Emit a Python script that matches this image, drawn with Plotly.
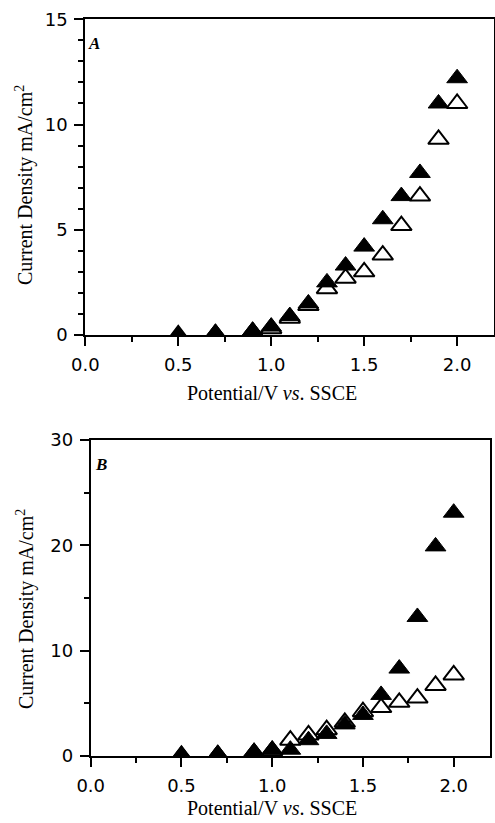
import plotly.graph_objects as go

# ---------------- data ----------------
potential = [0.5, 0.7, 0.9, 1.0, 1.1, 1.2, 1.3, 1.4, 1.5, 1.6, 1.7, 1.8, 1.9, 2.0]

a_filled = [0.0, 0.1, 0.2, 0.4, 0.9, 1.5, 2.5, 3.3, 4.2, 5.5, 6.6, 7.7, 11.0, 12.2]
a_open   = [0.0, 0.05, 0.15, 0.3, 0.8, 1.4, 2.2, 2.7, 3.0, 3.8, 5.2, 6.6, 9.3, 11.0]

b_filled = [0.1, 0.2, 0.4, 0.6, 0.6, 1.5, 2.1, 3.0, 3.9, 5.8, 8.3, 13.2, 19.9, 23.1]
b_open   = [0.05, 0.1, 0.3, 0.5, 1.5, 2.0, 2.5, 3.2, 4.2, 4.6, 5.1, 5.5, 6.7, 7.7]

x_ticks = [0.0, 0.5, 1.0, 1.5, 2.0]
x_ticklabels = ["0.0", "0.5", "1.0", "1.5", "2.0"]
ya_ticks = [0, 5, 10, 15]
yb_ticks = [0, 10, 20, 30]

x_title = "Potential/V <i>vs</i>. SSCE"
y_title = "Current Density mA/cm<sup>2</sup>"

W, H = 495, 823

def px_x(p):
    return p / W

def px_y(p):
    return 1 - p / H

fig = go.Figure()

MS = 18
open_marker = dict(symbol="triangle-up", size=MS, color="white",
                   line=dict(color="black", width=2))
fill_marker = dict(symbol="triangle-up", size=MS, color="black",
                   line=dict(color="black", width=1))

fig.add_trace(go.Scatter(x=potential, y=a_open, mode="markers", marker=open_marker,
                         xaxis="x", yaxis="y", showlegend=False))
fig.add_trace(go.Scatter(x=potential, y=a_filled, mode="markers", marker=fill_marker,
                         xaxis="x", yaxis="y", showlegend=False))
fig.add_trace(go.Scatter(x=potential, y=b_open, mode="markers", marker=open_marker,
                         xaxis="x2", yaxis="y2", showlegend=False))
fig.add_trace(go.Scatter(x=potential, y=b_filled, mode="markers", marker=fill_marker,
                         xaxis="x2", yaxis="y2", showlegend=False))

tickfont = dict(family="DejaVu Sans", size=18, color="black")

def xaxis_cfg(domain, anchor):
    return dict(domain=domain, anchor=anchor, range=[0, 2.2], automargin=False,
                tickvals=x_ticks, ticktext=x_ticklabels,
                ticks="outside", ticklen=9, tickwidth=2, tickcolor="black",
                minor=dict(dtick=0.25, tick0=0, ticks="outside", ticklen=5,
                           tickwidth=2, tickcolor="black"),
                showline=True, linecolor="black", linewidth=2, mirror=True,
                showgrid=False, zeroline=False, tickfont=tickfont,
                ticklabelstandoff=3)

def yaxis_cfg(domain, anchor, rng, ticks, minor_dtick):
    return dict(domain=domain, anchor=anchor, range=rng, automargin=False,
                tickvals=ticks,
                ticks="outside", ticklen=9, tickwidth=2, tickcolor="black",
                minor=dict(dtick=minor_dtick, tick0=0, ticks="outside", ticklen=5,
                           tickwidth=2, tickcolor="black"),
                showline=True, linecolor="black", linewidth=2, mirror=True,
                showgrid=False, zeroline=False, tickfont=tickfont,
                ticklabelstandoff=3)

fig.update_layout(
    width=W, height=H,
    margin=dict(l=0, r=0, t=0, b=0, autoexpand=False),
    paper_bgcolor="white", plot_bgcolor="white",
    xaxis=xaxis_cfg([px_x(85.3), px_x(494.3)], "y"),
    yaxis=yaxis_cfg([px_y(335), px_y(19.3)], "x", [0, 15], ya_ticks, 1),
    xaxis2=xaxis_cfg([px_x(90.7), px_x(490)], "y2"),
    yaxis2=yaxis_cfg([px_y(756), px_y(440)], "x2", [0, 30], yb_ticks, 5),
)

title_font = dict(family="Liberation Serif", size=20, color="black")
panel_font = dict(family="Liberation Serif", size=17, color="black")

annotations = [
    dict(text=x_title, x=px_x(272), y=px_y(393), xref="paper", yref="paper",
         showarrow=False, xanchor="center", yanchor="middle", font=title_font),
    dict(text=x_title, x=px_x(272), y=px_y(808), xref="paper", yref="paper",
         showarrow=False, xanchor="center", yanchor="middle", font=title_font),
    dict(text=y_title, x=px_x(25), y=px_y(185), xref="paper", yref="paper",
         showarrow=False, xanchor="center", yanchor="middle", textangle=-90,
         font=title_font),
    dict(text=y_title, x=px_x(25), y=px_y(609), xref="paper", yref="paper",
         showarrow=False, xanchor="center", yanchor="middle", textangle=-90,
         font=title_font),
    dict(text="<b><i>A</i></b>", x=px_x(86), y=px_y(32), xref="paper", yref="paper",
         showarrow=False, xanchor="left", yanchor="top", font=panel_font),
    dict(text="<b><i>B</i></b>", x=px_x(93), y=px_y(453), xref="paper", yref="paper",
         showarrow=False, xanchor="left", yanchor="top", font=panel_font),
]
fig.update_layout(annotations=annotations)

fig.write_html("out.html",
               config={"displayModeBar": False},
               post_script="document.body.style.margin='0';document.body.style.overflow='hidden';")
